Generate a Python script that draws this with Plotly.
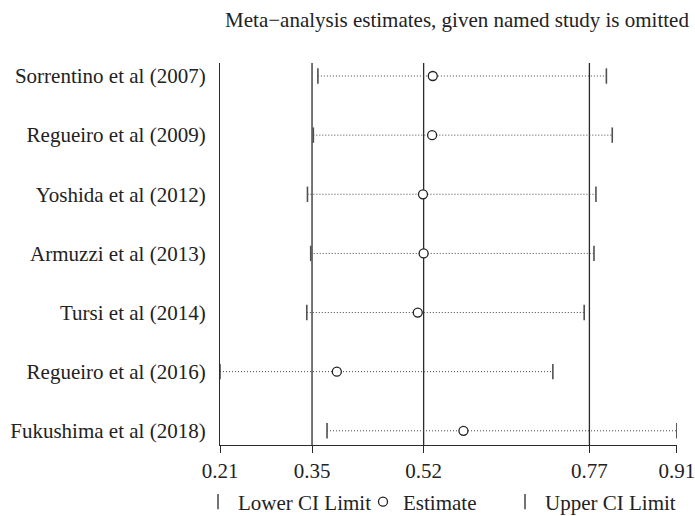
import plotly.graph_objects as go

studies = ["Sorrentino et al (2007)", "Regueiro et al (2009)", "Yoshida et al (2012)",
           "Armuzzi et al (2013)", "Tursi et al (2014)", "Regueiro et al (2016)",
           "Fukushima et al (2018)"]
estimate = [0.536, 0.535, 0.521, 0.522, 0.513, 0.389, 0.583]
lower_ci = [0.360, 0.353, 0.344, 0.349, 0.343, 0.210, 0.374]
upper_ci = [0.802, 0.811, 0.786, 0.783, 0.768, 0.720, 0.910]

# overall estimate and its CI (reference lines)
overall = [0.351, 0.522, 0.776]
tick_vals = [0.210, 0.351, 0.522, 0.776, 0.910]
tick_text = ["0.21", "0.35", "0.52", "0.77", "0.91"]

rows = list(range(1, len(studies) + 1))
FONT = "Liberation Serif"
FS = 21
DARK = "#2b2b2b"
TXT = "#222222"

fig = go.Figure()

# dotted CI lines
lx, ly = [], []
for r, lo, hi in zip(rows, lower_ci, upper_ci):
    lx += [lo, hi, None]
    ly += [r, r, None]
fig.add_trace(go.Scatter(x=lx, y=ly, mode="lines", showlegend=False, hoverinfo="skip",
                         line=dict(color="#444444", width=1, dash="1px,2px")))

fig.add_trace(go.Scatter(x=lower_ci, y=rows, mode="markers", name="Lower CI Limit",
                         legend="legend",
                         marker=dict(symbol="line-ns", size=11,
                                     line=dict(color="#505050", width=1.6))))
fig.add_trace(go.Scatter(x=estimate, y=rows, mode="markers", name="Estimate",
                         legend="legend2",
                         marker=dict(symbol="circle", size=9, color="white",
                                     line=dict(color="#222222", width=1.3))))
fig.add_trace(go.Scatter(x=upper_ci, y=rows, mode="markers", name="Upper CI Limit",
                         legend="legend3",
                         marker=dict(symbol="line-ns", size=11,
                                     line=dict(color="#505050", width=1.6))))

for v in overall:
    fig.add_shape(type="line", x0=v, x1=v, y0=0, y1=1, xref="x", yref="paper",
                  line=dict(color=DARK, width=1.3), layer="below")


def legend_at(left_px):
    return dict(orientation="h", xref="container", yref="container",
                x=left_px / 695, xanchor="left", y=1 - 502 / 516, yanchor="middle",
                itemwidth=30, font=dict(family=FONT, size=FS, color=TXT),
                bgcolor="rgba(0,0,0,0)")


fig.update_layout(
    width=695, height=516,
    margin=dict(l=220, r=18, t=63, b=71, autoexpand=False),
    paper_bgcolor="white", plot_bgcolor="white",
    font=dict(family=FONT, size=FS, color=TXT),
    title=dict(text="Meta\u2212analysis estimates, given named study is omitted",
               x=457 / 695, xanchor="center", xref="container",
               y=1 - 20 / 516, yanchor="middle", yref="container",
               font=dict(family=FONT, size=FS, color=TXT)),
    legend=legend_at(198),
    legend2=legend_at(363),
    legend3=legend_at(505),
    xaxis=dict(range=[tick_vals[0], tick_vals[-1] + 0.0002], tickvals=tick_vals,
               ticktext=tick_text, ticklabeloverflow="allow",
               showgrid=False, zeroline=False, showline=True, linecolor=DARK, linewidth=1.3,
               ticks="outside", ticklen=7, tickwidth=1.3, tickcolor=DARK, automargin=False,
               tickfont=dict(family=FONT, size=FS, color=TXT)),
    yaxis=dict(range=[7.24, 0.78], tickvals=rows, ticktext=studies,
               showgrid=False, zeroline=False, showline=True, linecolor=DARK, linewidth=1.3,
               ticks="", ticklabelstandoff=9, automargin=False,
               tickfont=dict(family=FONT, size=FS, color=TXT)),
)

fig.write_html("out.html", config={"displayModeBar": False},
               post_script="document.body.style.margin='0px';")
